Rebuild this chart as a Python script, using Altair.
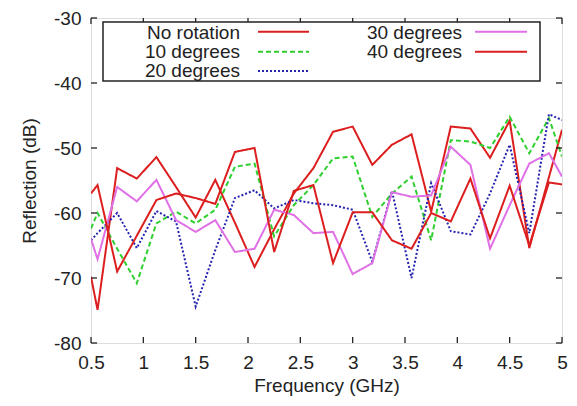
import altair as alt
import pandas as pd

# Frequency samples (GHz)
freq = [0.5, 0.5625, 0.75, 0.9375, 1.125, 1.3125, 1.5, 1.6875, 1.875, 2.0625,
        2.25, 2.4375, 2.625, 2.8125, 3.0, 3.1875, 3.375, 3.5625, 3.75, 3.9375,
        4.125, 4.3125, 4.5, 4.6875, 4.875, 5.0]

no_rotation = [-69.8, -74.9, -53.1, -54.7, -51.4, -56.0, -60.7, -54.9, -61.5, -68.3,
               -62.5, -57.0, -53.1, -47.5, -46.7, -52.6, -49.5, -47.9, -59.8, -46.7,
               -47.0, -51.5, -45.8, -65.4, -54.5, -47.2]
deg10 = [-62.4, -60.0, -65.5, -70.8, -61.6, -59.8, -61.6, -59.5, -52.9, -52.4,
         -63.6, -58.8, -55.7, -51.6, -51.3, -60.6, -57.0, -54.4, -64.2, -48.8,
         -49.0, -50.0, -45.2, -50.8, -45.4, -51.3]
deg20 = [-64.2, -63.1, -60.0, -65.4, -59.7, -61.3, -74.4, -65.7, -57.7, -56.5,
         -59.3, -58.0, -58.5, -58.8, -59.5, -67.5, -56.6, -70.0, -55.4, -62.8,
         -63.3, -57.0, -49.5, -63.1, -44.8, -45.7]
deg30 = [-64.0, -67.1, -56.0, -58.2, -54.9, -61.1, -62.9, -61.1, -66.0, -65.5,
         -59.5, -60.3, -63.1, -62.9, -69.4, -67.7, -56.8, -57.5, -57.3, -49.8,
         -52.6, -65.5, -58.8, -52.4, -50.8, -54.4]
deg40 = [-57.0, -55.7, -69.0, -63.5, -58.0, -57.0, -57.7, -58.6, -50.6, -50.0,
         -66.0, -56.6, -55.7, -67.7, -59.9, -59.9, -64.2, -65.5, -60.0, -61.3,
         -54.7, -63.9, -55.8, -65.0, -55.3, -55.6]

series_names = ["No rotation", "10 degrees", "20 degrees", "30 degrees", "40 degrees"]
series_values = [no_rotation, deg10, deg20, deg30, deg40]

x_ticks = [0.5, 1, 1.5, 2, 2.5, 3, 3.5, 4, 4.5, 5]
y_ticks = [-80, -70, -60, -50, -40, -30]

# styles
colors = ["#dc1e1e", "#2fcf2f", "#2323b0", "#e070e6", "#dc1e1e"]
dashes = [[1, 0], [5, 3], [2, 2], [1, 0], [1, 0]]

W, H = 471, 325
FONT = "Liberation Sans"

xscale = alt.Scale(domain=[0.5, 5], nice=False, zero=False)
yscale = alt.Scale(domain=[-80, -30], nice=False, zero=False)

layers = []

# base with axes (labels only; ticks drawn inward below)
axis_base = alt.Chart(pd.DataFrame({"f": [0.5], "r": [-80]})).mark_point(opacity=0).encode(
    x=alt.X("f:Q", scale=xscale,
            axis=alt.Axis(values=x_ticks, title="Frequency (GHz)", domain=False, ticks=False,
                          grid=False, labelFontSize=19, titleFontSize=19, labelFont=FONT,
                          titleFont=FONT, labelColor="#222", titleColor="#222",
                          titleFontWeight="normal", labelPadding=10, titlePadding=4,
                          labelFlush=False, labelExpr="toString(datum.value)")),
    y=alt.Y("r:Q", scale=yscale,
            axis=alt.Axis(values=y_ticks, title="Reflection (dB)", domain=False, ticks=False,
                          grid=False, labelFontSize=19, titleFontSize=19, labelFont=FONT,
                          titleFont=FONT, labelColor="#222", titleColor="#222",
                          titleFontWeight="normal", labelPadding=10, titlePadding=14,
                          labelFlush=False, labelExpr="toString(datum.value)")),
)
layers.append(axis_base)

for name, vals, col, dash in zip(series_names, series_values, colors, dashes):
    df = pd.DataFrame({"f": freq, "r": vals})
    layers.append(
        alt.Chart(df).mark_line(color=col, strokeDash=dash, strokeWidth=2, clip=True).encode(
            x=alt.X("f:Q", scale=xscale), y=alt.Y("r:Q", scale=yscale)
        )
    )

# inward ticks
xt = pd.DataFrame({"f": x_ticks})
yt = pd.DataFrame({"r": y_ticks})
tick_style = dict(color="#222", strokeWidth=1.3)
layers.append(alt.Chart(xt).mark_rule(**tick_style).encode(
    x=alt.X("f:Q", scale=xscale), y=alt.value(H), y2=alt.value(H - 6)))
layers.append(alt.Chart(xt).mark_rule(**tick_style).encode(
    x=alt.X("f:Q", scale=xscale), y=alt.value(0), y2=alt.value(6)))
layers.append(alt.Chart(yt).mark_rule(**tick_style).encode(
    y=alt.Y("r:Q", scale=yscale), x=alt.value(0), x2=alt.value(6)))
layers.append(alt.Chart(yt).mark_rule(**tick_style).encode(
    y=alt.Y("r:Q", scale=yscale), x=alt.value(W), x2=alt.value(W - 6)))

# legend box
layers.append(alt.Chart(pd.DataFrame({"a": [0]})).mark_rect(
    fill="white", stroke="#222", strokeWidth=1.5).encode(
    x=alt.value(12), x2=alt.value(449), y=alt.value(4), y2=alt.value(63)))

# legend entries
text_right = [149, 371]
sample_x = [(167, 218), (384, 436)]
row_base = [20.5, 40, 59]
row_line = [13.7, 33.7, 53]
for i, (name, col, dash) in enumerate(zip(series_names, colors, dashes)):
    c = 0 if i < 3 else 1
    r = i if i < 3 else i - 3
    d = pd.DataFrame({"label": [name]})
    layers.append(alt.Chart(d).mark_text(
        align="right", baseline="alphabetic", fontSize=19, font=FONT, color="#222").encode(
        x=alt.value(text_right[c]), y=alt.value(row_base[r]), text="label:N"))
    layers.append(alt.Chart(d).mark_rule(color=col, strokeDash=dash, strokeWidth=2).encode(
        x=alt.value(sample_x[c][0]), x2=alt.value(sample_x[c][1]), y=alt.value(row_line[r])))

chart = alt.layer(*layers).properties(
    width=W, height=H,
    autosize=alt.AutoSizeParams(type="none"),
    padding={"left": 83, "top": 10, "right": 7, "bottom": 55},
).configure_view(stroke="#222", strokeWidth=1.5).configure(background="white")

chart.save("out.html", embed_options={"renderer": "svg", "actions": False})
